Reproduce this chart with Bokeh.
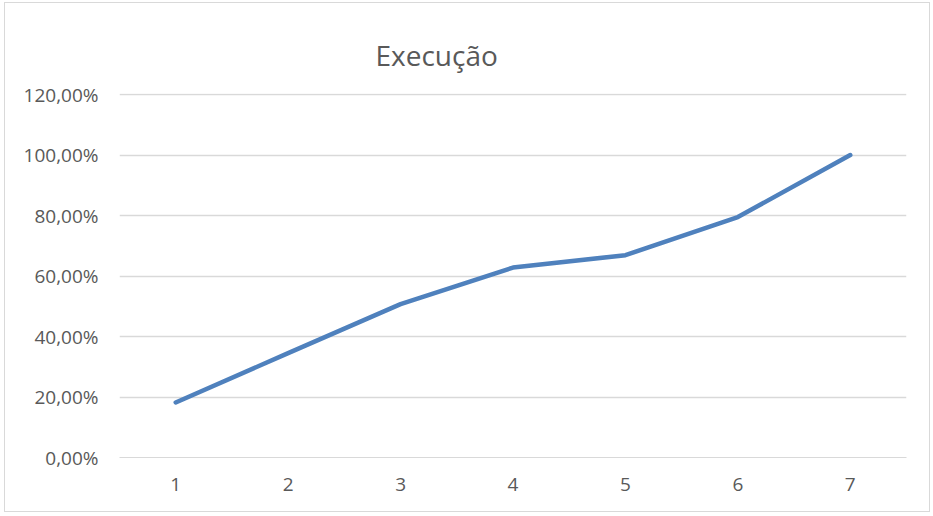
from bokeh.plotting import figure
from bokeh.models import FactorRange, Range1d, FixedTicker, CustomJSTickFormatter
from bokeh.embed import file_html
from bokeh.resources import INLINE

categories = ["1", "2", "3", "4", "5", "6", "7"]
execucao = [0.182, 0.345, 0.507, 0.628, 0.669, 0.795, 1.00]
y_ticks = [0.0, 0.2, 0.4, 0.6, 0.8, 1.0, 1.2]
title_text = "Execução"

FONT = "Open Sans"
TXT = "#595959"
GRID = "#d9d9d9"
LINE = "#4f81bd"

p = figure(width=926, height=510, x_range=FactorRange(*categories),
           y_range=Range1d(0, 1.2035), output_backend="svg", toolbar_location=None,
           min_border_left=114, min_border_right=25, min_border_top=90, min_border_bottom=56)
p.styles = {"border": "1px solid #d9d9d9", "margin-left": "4px", "margin-top": "2px"}
p.outline_line_color = None
p.background_fill_color = "white"
p.border_fill_color = "white"

p.title.text = title_text
p.title.text_font = FONT
p.title.text_font_size = "28px"
p.title.text_font_style = "normal"
p.title.text_color = TXT
p.title.align = "left"
p.title.offset = 256
p.title.standoff = 40

p.line(x=categories, y=execucao, line_color=LINE, line_width=4.5,
       line_cap="round", line_join="round")

p.yaxis.ticker = FixedTicker(ticks=y_ticks)
p.yaxis.formatter = CustomJSTickFormatter(code="return (tick*100).toFixed(2).replace('.', ',') + '%';")
p.yaxis.axis_line_color = None
p.yaxis.major_tick_line_color = None
p.yaxis.minor_tick_line_color = None
p.yaxis.major_tick_out = 0
p.yaxis.major_tick_in = 0
p.yaxis.major_label_text_font = FONT
p.yaxis.major_label_text_font_size = "19px"
p.yaxis.major_label_text_color = TXT
p.yaxis.major_label_standoff = 21

p.xaxis.axis_line_color = GRID
p.xaxis.major_tick_line_color = None
p.xaxis.minor_tick_line_color = None
p.xaxis.major_tick_out = 0
p.xaxis.major_tick_in = 0
p.xaxis.major_label_text_font = FONT
p.xaxis.major_label_text_font_size = "19px"
p.xaxis.major_label_text_color = TXT
p.xaxis.major_label_standoff = 20

p.xgrid.grid_line_color = None
p.ygrid.grid_line_color = GRID
p.ygrid.grid_line_width = 1.3

open("out.html", "w").write(file_html(p, INLINE))
